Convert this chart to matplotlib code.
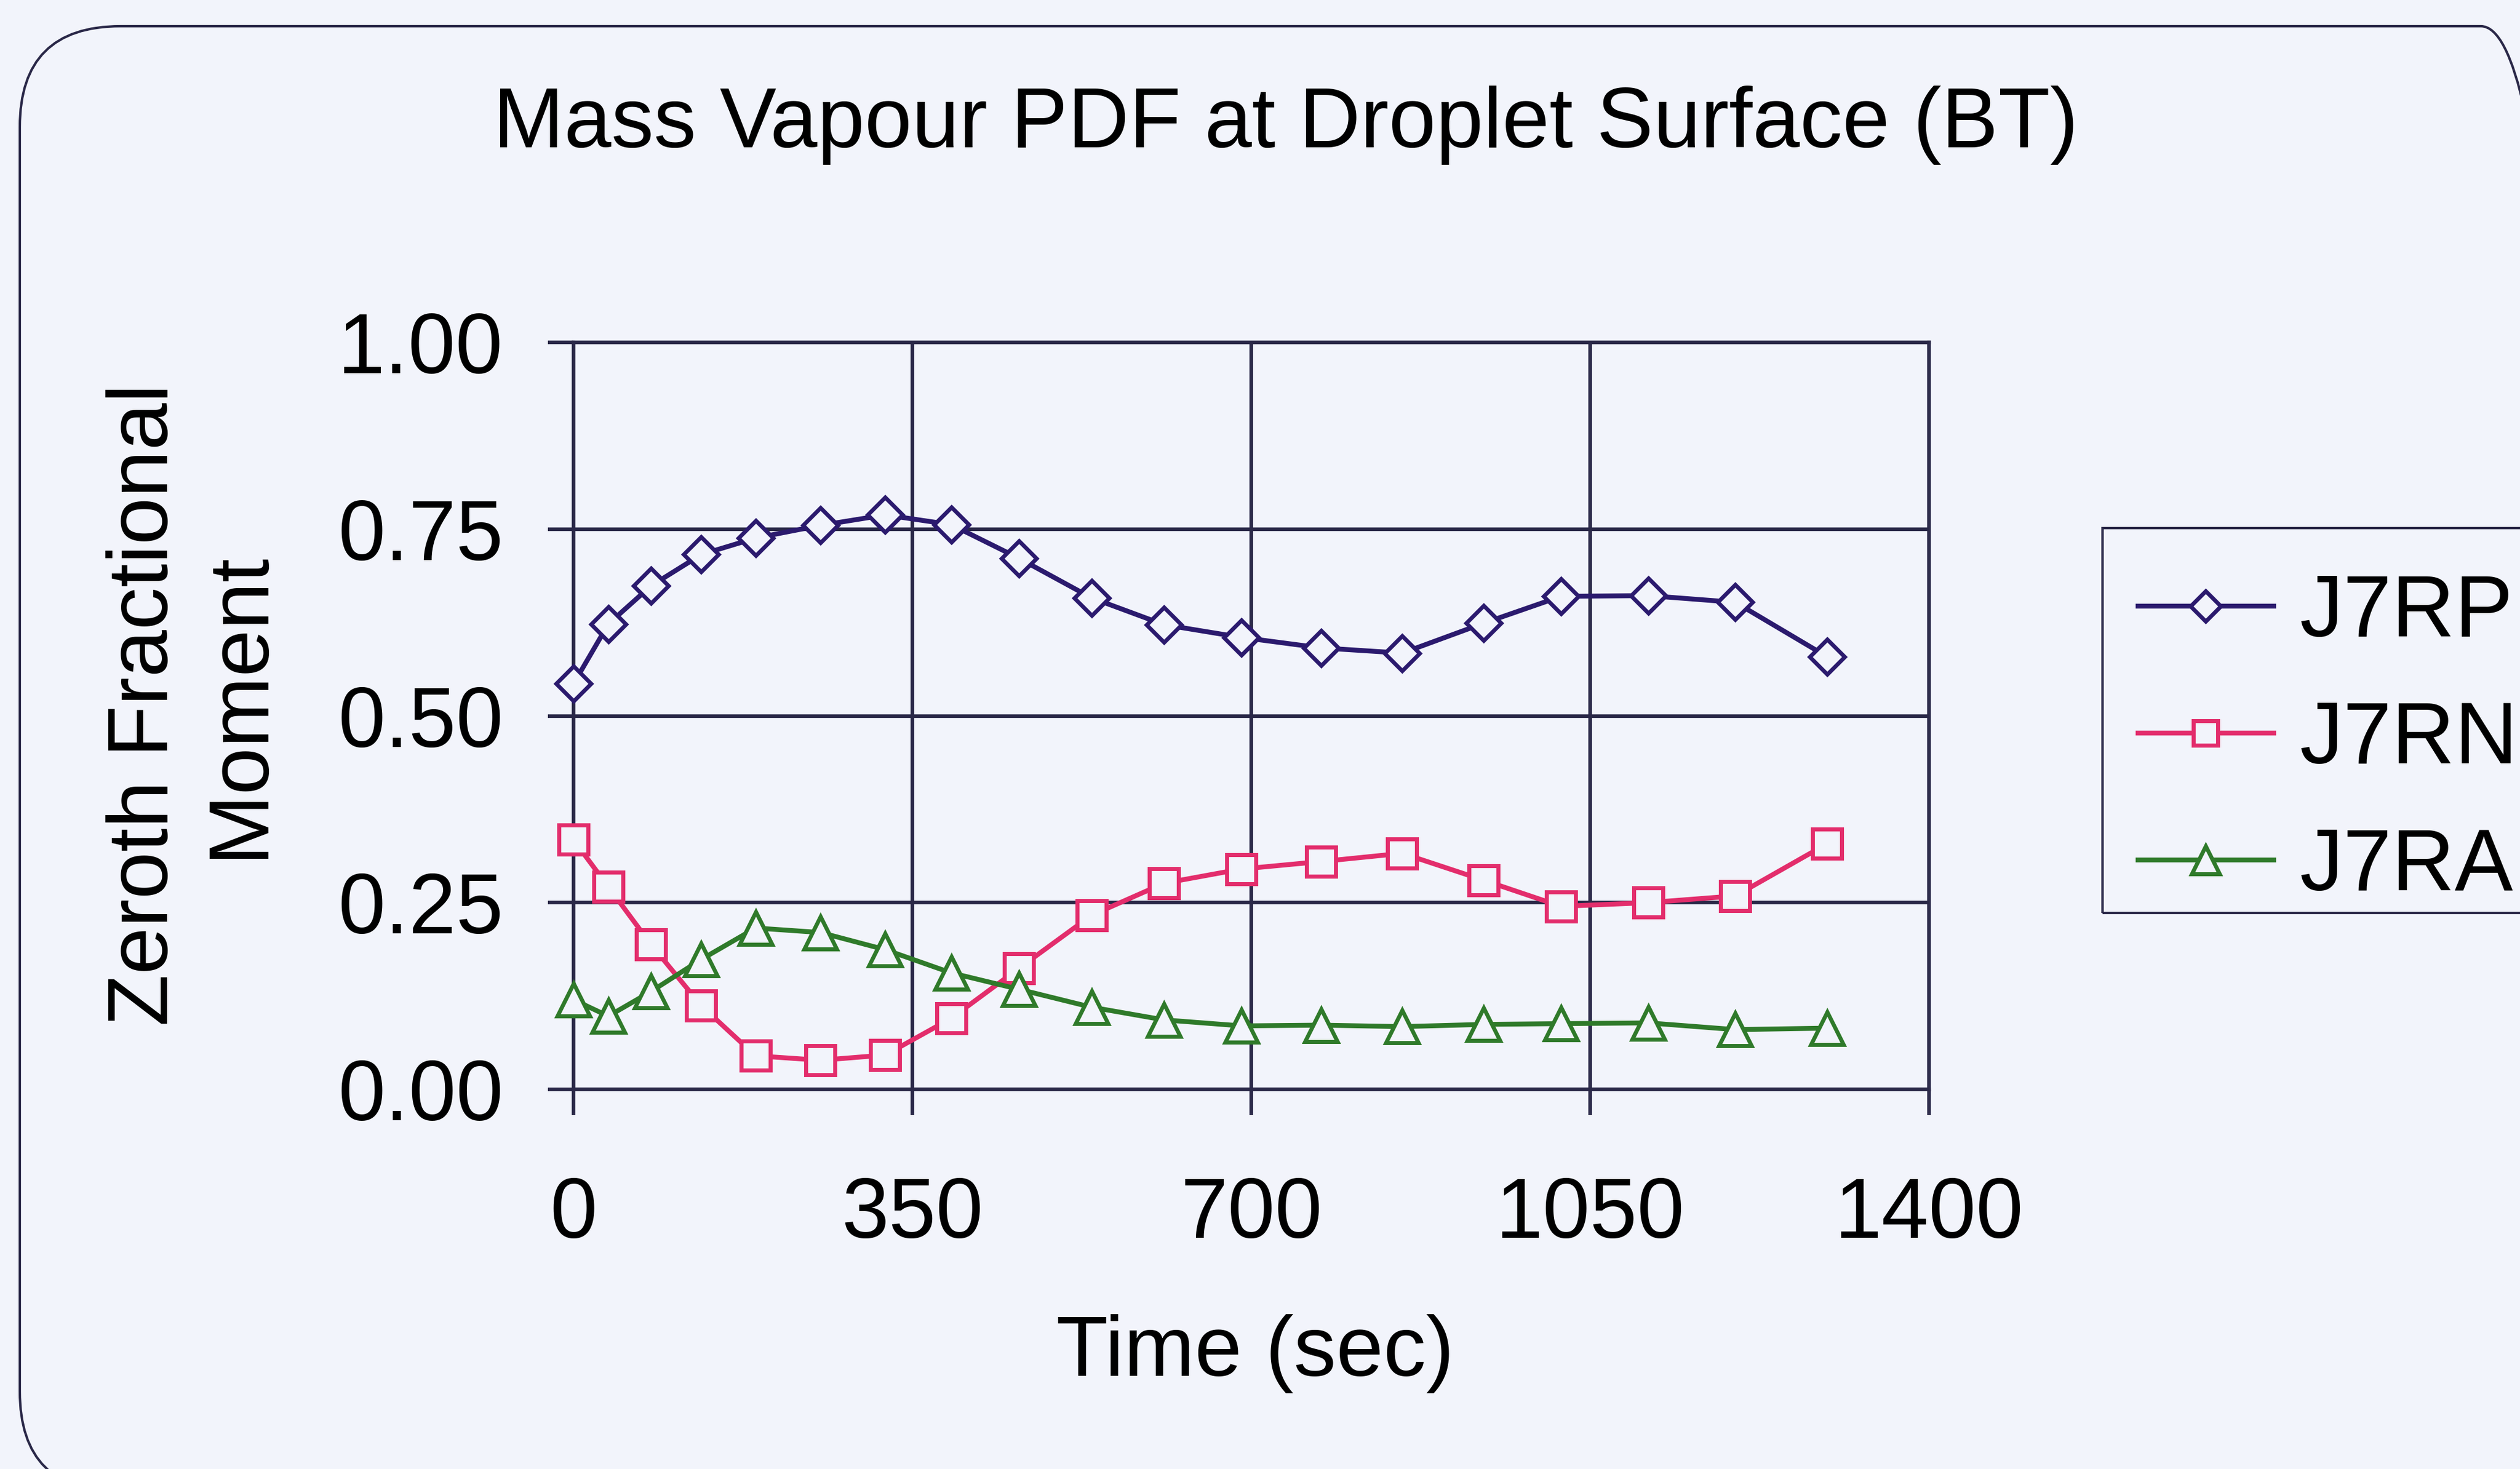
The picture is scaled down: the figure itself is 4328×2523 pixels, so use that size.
import matplotlib
matplotlib.use("Agg")
import matplotlib.pyplot as plt
from matplotlib.patches import FancyBboxPatch, Rectangle

plt.rcParams['font.family'] = ['Liberation Sans', 'DejaVu Sans']

# data
tiempo = [0, 36, 80, 132, 188, 255, 322, 390, 460, 535, 610, 690, 772, 856, 940, 1020, 1110, 1200, 1295]
j7rp = [0.543, 0.623, 0.674, 0.716, 0.738, 0.755, 0.769, 0.756, 0.711, 0.658,
        0.622, 0.605, 0.591, 0.584, 0.624, 0.660, 0.661, 0.652, 0.579]
j7rn = [0.334, 0.271, 0.194, 0.112, 0.045, 0.039, 0.046, 0.095, 0.162, 0.233,
        0.276, 0.295, 0.305, 0.316, 0.280, 0.245, 0.250, 0.259, 0.329]
j7ra = [0.120, 0.098, 0.131, 0.174, 0.216, 0.210, 0.187, 0.156, 0.134, 0.110,
        0.093, 0.085, 0.086, 0.084, 0.087, 0.088, 0.089, 0.080, 0.082]
series_names = ['J7RP', 'J7RN', 'J7RA']
x_ticks = [0, 350, 700, 1050, 1400]
y_ticks = [0.0, 0.25, 0.5, 0.75, 1.0]

W, H = 4328, 2523
bg = '#f2f4fb'
ink = '#2a2848'
fs = 105

fig = plt.figure(figsize=(W / 100, H / 100), dpi=100, facecolor=bg)

# rounded chart frame (runs off the right and bottom edges)
frame = FancyBboxPatch((34 / W, -40 / H), 4400 / W, (H - 45 + 40) / H,
                       boxstyle="round,pad=0,rounding_size=0.04",
                       transform=fig.transFigure, facecolor='none',
                       edgecolor=ink, linewidth=3, mutation_aspect=W / H)
fig.patches.append(frame)

ax = fig.add_axes([985 / W, 1 - 1871 / H, (3313 - 985) / W, (1871 - 588) / H])
ax.set_facecolor(bg)

ax.plot(tiempo, j7rp, color='#2b1a6e', marker='D', markersize=31, markerfacecolor=bg,
        markeredgewidth=5, linewidth=6, label=series_names[0], clip_on=False, zorder=5)
ax.plot(tiempo, j7rn, color='#e32d6c', marker='s', markersize=36, markerfacecolor=bg,
        markeredgewidth=5, linewidth=6, label=series_names[1], clip_on=False, zorder=4)
ax.plot(tiempo, j7ra, color='#2f7a2a', marker='^', markersize=40, markerfacecolor=bg,
        markeredgewidth=5, linewidth=6, label=series_names[2], clip_on=False, zorder=4)

ax.set_xlim(0, 1400)
ax.set_ylim(0, 1)
ax.set_xticks(x_ticks)
ax.set_yticks(y_ticks)
ax.set_yticklabels([f"{v:.2f}" for v in y_ticks])
ax.grid(True, color=ink, linewidth=4.5)
ax.set_axisbelow(True)
for s in ax.spines.values():
    s.set_color(ink)
    s.set_linewidth(4.5)
ax.tick_params(axis='both', direction='out', length=32, width=4.5, color=ink, labelsize=fs)
ax.tick_params(axis='y', pad=55)
ax.tick_params(axis='x', pad=75)

fig.text(2208 / W, 1 - 215 / H, "Mass Vapour PDF at Droplet Surface (BT)", fontsize=fs,
         ha='center', va='center')
fig.text(2156 / W, 1 - 2325 / H, "Time (sec)", fontsize=fs, ha='center', va='center')
fig.text(331 / W, 1 - 1210 / H, "Zeroth Fractional\nMoment", fontsize=fs, ha='center',
         va='center', rotation=90, linespacing=1.25)

# legend box (off the right edge)
fig.patches.append(Rectangle((3611 / W, 1 - 1568 / H), 800 / W, (1568 - 907) / H,
                             transform=fig.transFigure, facecolor='none',
                             edgecolor=ink, linewidth=3))
leg = ax.legend(loc='center left', bbox_to_anchor=(3672 / W, 1 - 1272 / H),
                bbox_transform=fig.transFigure, frameon=False, fontsize=108,
                handlelength=1.55, handletextpad=0.3, labelspacing=0.52,
                borderpad=0, borderaxespad=0, numpoints=1)
for h in leg.legend_handles:
    h.set_markersize(h.get_markersize() * 0.85)

fig.savefig("out.png", dpi=100, facecolor=bg)
